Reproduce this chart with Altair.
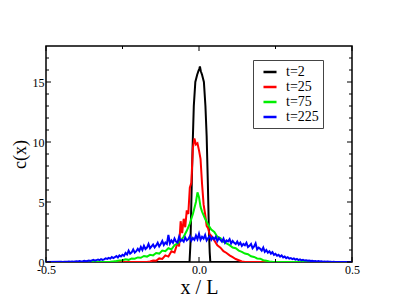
import altair as alt
import pandas as pd

# ---- data ----
series_names = ["t=2", "t=25", "t=75", "t=225"]
series_colors = ["#000000", "#ff0000", "#00ee00", "#0000ff"]

black_x = [-0.5, -0.031, -0.028, -0.025, -0.021, -0.017, -0.012, -0.006, -0.002, 0.001, 0.003,
           0.006, 0.010, 0.016, 0.021, 0.025, 0.029, 0.032, 0.035, 0.037, 0.5]
black_y = [0, 0, 1.5, 5.0, 9.5, 13.0, 15.0, 15.6, 15.9, 16.1, 16.3,
           15.9, 15.6, 15.0, 13.0, 10.5, 6.5, 3.0, 0.8, 0, 0]

red_x = [-0.5, -0.17, -0.16, -0.15, -0.14, -0.13, -0.12, -0.11, -0.10, -0.09, -0.08, -0.07,
         -0.065, -0.06, -0.055, -0.05, -0.045, -0.04, -0.035, -0.03, -0.025, -0.02, -0.015,
         -0.01, -0.005, 0.0, 0.005, 0.01, 0.015, 0.02, 0.025, 0.03, 0.035, 0.04, 0.05, 0.06,
         0.07, 0.08, 0.09, 0.10, 0.11, 0.12, 0.13, 0.14, 0.15, 0.5]
red_y = [0, 0, 0.05, 0.12, 0.1, 0.3, 0.25, 0.55, 0.45, 0.9, 0.8, 1.6,
         1.3, 3.4, 2.4, 3.6, 2.9, 4.3, 4.0, 6.2, 6.6, 9.5, 10.3,
         9.8, 9.9, 9.3, 8.6, 6.5, 4.8, 4.0, 3.0, 2.8, 2.3, 2.2, 1.8, 1.4,
         1.2, 0.9, 0.75, 0.55, 0.4, 0.25, 0.15, 0.05, 0, 0]

green_x = [-0.5, -0.30, -0.29, -0.28, -0.27, -0.26, -0.25, -0.24, -0.23, -0.22, -0.21, -0.20,
           -0.19, -0.18, -0.17, -0.16, -0.15, -0.14, -0.13, -0.12, -0.11, -0.10, -0.09, -0.08,
           -0.07, -0.06, -0.05, -0.04, -0.03, -0.02, -0.01, -0.005, 0.0, 0.005, 0.01, 0.02,
           0.03, 0.04, 0.05, 0.06, 0.07, 0.08, 0.09, 0.10, 0.11, 0.12, 0.13, 0.14, 0.15, 0.16,
           0.17, 0.18, 0.19, 0.20, 0.21, 0.22, 0.23, 0.24, 0.25, 0.5]
green_y = [0, 0, 0.02, 0.05, 0.08, 0.12, 0.15, 0.22, 0.18, 0.3, 0.28, 0.38,
           0.35, 0.5, 0.45, 0.6, 0.55, 0.75, 0.7, 0.95, 0.9, 1.15, 1.05, 1.4,
           1.55, 1.8, 2.1, 2.6, 3.2, 4.0, 5.0, 5.8, 5.4, 4.6, 4.2, 3.6,
           3.1, 2.7, 2.5, 2.1, 2.0, 1.7, 1.55, 1.4, 1.2, 1.15, 0.95, 0.85, 0.7, 0.65,
           0.48, 0.42, 0.3, 0.28, 0.15, 0.1, 0.05, 0.02, 0, 0]

# blue: sampled every 0.005 from -0.45 to 0.45
blue_vals = [
    0.02, 0.01, 0.03, 0.02, 0.02, 0.04, 0.03, 0.05, 0.02, 0.04,
    0.06, 0.04, 0.08, 0.05, 0.07, 0.1, 0.06, 0.09, 0.12, 0.08,
    0.13, 0.18, 0.12, 0.16, 0.2, 0.15, 0.24, 0.18, 0.22, 0.3,
    0.26, 0.34, 0.28, 0.42, 0.33, 0.4, 0.5, 0.38, 0.55, 0.46,
    0.6, 0.52, 0.75, 0.62, 0.95, 0.7, 0.8, 1.05, 0.78, 0.9,
    1.1, 0.92, 1.25, 1.0, 1.35, 1.08, 1.2, 1.5, 1.15, 1.3,
    1.45, 1.22, 1.38, 1.6, 1.3, 1.5, 1.75, 1.42, 1.62, 1.5,
    2.25, 1.55, 1.8, 1.6, 1.95, 1.7, 1.62, 2.1, 1.75, 1.85,
    1.7, 2.05, 1.8, 1.9, 2.15, 1.78, 2.0, 1.85, 2.2, 1.9,
    2.35, 1.85, 2.1, 1.95, 2.25, 1.8, 2.0, 2.15, 1.85, 2.05,
    1.9, 2.1, 1.75, 2.0, 1.85, 1.7, 1.95, 1.6, 1.8, 1.72,
    1.9, 1.55, 1.75, 1.6, 1.5, 1.7, 1.45, 1.62, 1.35, 1.5,
    1.4, 1.6, 1.25, 1.35, 1.5, 1.15, 1.3, 1.55, 1.05, 1.2,
    1.1, 0.95, 1.2, 0.85, 1.0, 0.78, 0.9, 0.7, 0.82, 0.6,
    0.68, 0.52, 0.6, 0.45, 0.55, 0.38, 0.46, 0.32, 0.4, 0.28,
    0.33, 0.24, 0.3, 0.2, 0.25, 0.16, 0.22, 0.14, 0.18, 0.12,
    0.15, 0.1, 0.13, 0.08, 0.11, 0.06, 0.09, 0.05, 0.08, 0.04,
    0.06, 0.03, 0.05, 0.02, 0.04, 0.02, 0.03, 0.01, 0.02, 0.01,
    0.01,
]
blue_x = [-0.5] + [round(-0.45 + i * 0.005, 3) for i in range(len(blue_vals))] + [0.5]
blue_y = [0] + blue_vals + [0]

y_major = [0, 5, 10, 15]
y_minor = [1, 2, 3, 4, 6, 7, 8, 9, 11, 12, 13, 14, 16, 17]
x_major = [-0.5, 0.0, 0.5]
x_minor = [-0.25, 0.25]

W, H = 306, 216
FONT = "Liberation Serif"

xscale = alt.Scale(domain=[-0.5, 0.5], nice=False, zero=False)
yscale = alt.Scale(domain=[0, 18], nice=False)
cscale = alt.Scale(domain=series_names, range=series_colors)

xaxis = alt.Axis(values=x_major, ticks=False, domain=False, grid=False,
                 labelFont=FONT, labelFontSize=12, labelColor="black", labelPadding=2,
                 labelFlush=False, labelOverlap=False,
                 labelExpr="replace(datum.label, '\u2212', '-')",
                 title="x / L", titleFont=FONT, titleFontSize=20, titleFontWeight="normal",
                 titleColor="black", titlePadding=2)
yaxis = alt.Axis(values=y_major, ticks=False, domain=False, grid=False,
                 labelFont=FONT, labelFontSize=12, labelColor="black", labelPadding=2,
                 labelFlush=False, labelOverlap=False,
                 title="c(x)", titleFont=FONT, titleFontSize=18, titleFontWeight="normal",
                 titleColor="black", titlePadding=3)
legend = alt.Legend(title=None, orient="none", legendX=207, legendY=14,
                    symbolType="stroke", symbolSize=170, symbolStrokeWidth=2.5,
                    labelFont=FONT, labelFontSize=14, labelColor="black", labelOffset=8,
                    padding=4, symbolOffset=5, rowPadding=0,
                    strokeColor="#444444", fillColor="white")

layers = []
for name, xs, ys in [("t=2", black_x, black_y), ("t=25", red_x, red_y),
                     ("t=75", green_x, green_y), ("t=225", blue_x, blue_y)]:
    df = pd.DataFrame({"x": xs, "c": ys, "series": name})
    layers.append(
        alt.Chart(df).mark_line(strokeWidth=2, clip=True).encode(
            x=alt.X("x:Q", scale=xscale, axis=xaxis),
            y=alt.Y("c:Q", scale=yscale, axis=yaxis),
            color=alt.Color("series:N", scale=cscale, legend=legend),
            order=alt.Order("x:Q"),
        )
    )

def yticks(vals, length):
    d = pd.DataFrame({"c": vals})
    left = alt.Chart(d).mark_rule(color="black", strokeWidth=1).encode(
        y=alt.Y("c:Q", scale=yscale, axis=yaxis), x=alt.value(0), x2=alt.value(length))
    right = alt.Chart(d).mark_rule(color="black", strokeWidth=1).encode(
        y=alt.Y("c:Q", scale=yscale, axis=yaxis), x=alt.value(W), x2=alt.value(W - length))
    return [left, right]

def xticks(vals, length):
    d = pd.DataFrame({"x": vals})
    bottom = alt.Chart(d).mark_rule(color="black", strokeWidth=1).encode(
        x=alt.X("x:Q", scale=xscale, axis=xaxis), y=alt.value(H), y2=alt.value(H - length))
    top = alt.Chart(d).mark_rule(color="black", strokeWidth=1).encode(
        x=alt.X("x:Q", scale=xscale, axis=xaxis), y=alt.value(0), y2=alt.value(length))
    return [bottom, top]

ticks = yticks(y_major, 5) + yticks(y_minor, 3) + xticks(x_major, 5) + xticks(x_minor, 3)

chart = alt.layer(*layers, *ticks).properties(
    width=W, height=H,
    padding={"left": 38, "top": 38, "right": 30, "bottom": 44},
    autosize=alt.AutoSizeParams(type="none"),
    background="white",
).configure(font=FONT).configure_view(stroke="black", strokeWidth=1.5)

chart.save("out.html", embed_options={"renderer": "svg", "actions": False})
